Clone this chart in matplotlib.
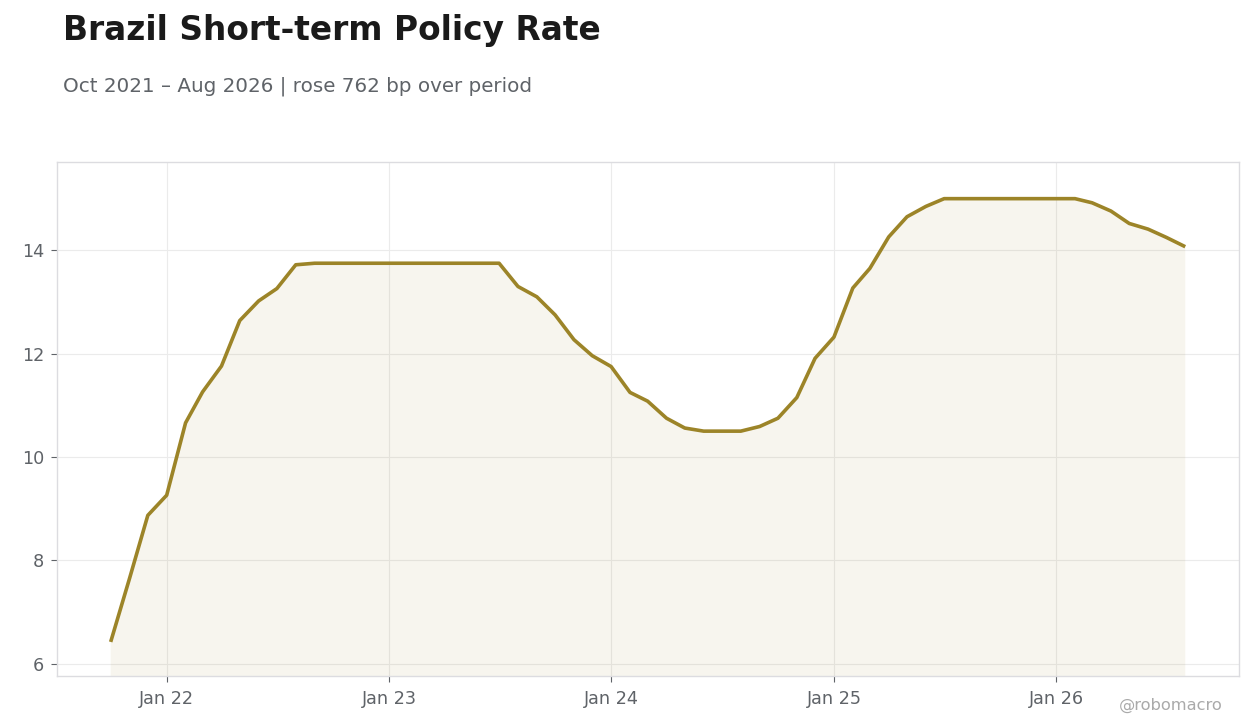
import numpy as np
import pandas as pd
import matplotlib
matplotlib.use("Agg")
import matplotlib.pyplot as plt
import matplotlib.dates as mdates

plt.rcParams['font.family'] = ['DejaVu Sans']

# monthly policy rate, Oct 2021 .. Aug 2026
dates = pd.date_range("2021-10-01", "2026-08-01", freq="MS")
rate = [
    6.42, 7.65, 8.87,                                                    # 2021
    9.26, 10.66, 11.26, 11.76, 12.64, 13.02, 13.26, 13.72, 13.75, 13.75, 13.75, 13.75,  # 2022
    13.75, 13.75, 13.75, 13.75, 13.75, 13.75, 13.75, 13.30, 13.10, 12.75, 12.27, 11.96,  # 2023
    11.75, 11.25, 11.08, 10.75, 10.56, 10.50, 10.50, 10.50, 10.59, 10.75, 11.15, 11.91,  # 2024
    12.32, 13.27, 13.65, 14.26, 14.65, 14.85, 15.00, 15.00, 15.00, 15.00, 15.00, 15.00,  # 2025
    15.00, 15.00, 14.92, 14.76, 14.52, 14.41, 14.25, 14.07,              # 2026
]

title = "Brazil Short-term Policy Rate"
subtitle = "Oct 2021 \u2013 Aug 2026 | rose 762 bp over period"
credit = "@robomacro"

line_col = "#9c8428"
grey = "#5f6368"

fig = plt.figure(figsize=(12.6, 7.28), dpi=100)
ax = fig.add_axes([0.0452, 0.0714, 0.9381, 0.7061])

ax.fill_between(dates, rate, 0, color=line_col, alpha=0.08, linewidth=0)
ax.plot(dates, rate, color=line_col, linewidth=2.6, solid_capstyle="butt")

ax.set_ylim(5.76, 15.71)
ax.margins(x=0.05)
ax.set_yticks([6, 8, 10, 12, 14])
ax.xaxis.set_major_locator(mdates.YearLocator())
ax.xaxis.set_major_formatter(mdates.DateFormatter("Jan %y"))

ax.grid(True, color="#ebebeb", linewidth=0.8)
ax.set_axisbelow(True)
for s in ax.spines.values():
    s.set_color("#dcdce0")
    s.set_linewidth(1.0)
ax.tick_params(axis="both", colors=grey, labelsize=12.7, length=4, width=0.8, pad=5)
ax.tick_params(axis="x", pad=6)

fig.text(0.05, 0.945, title, fontsize=23.7, fontweight="bold", color="#1a1a1a", va="baseline")
fig.text(0.05, 0.874, subtitle, fontsize=14.3, color=grey, va="baseline")
fig.text(0.97, 0.025, credit, fontsize=11.7, color="#aaaaaa", ha="right", va="baseline")

fig.savefig("out.png", dpi=100, facecolor="white")
